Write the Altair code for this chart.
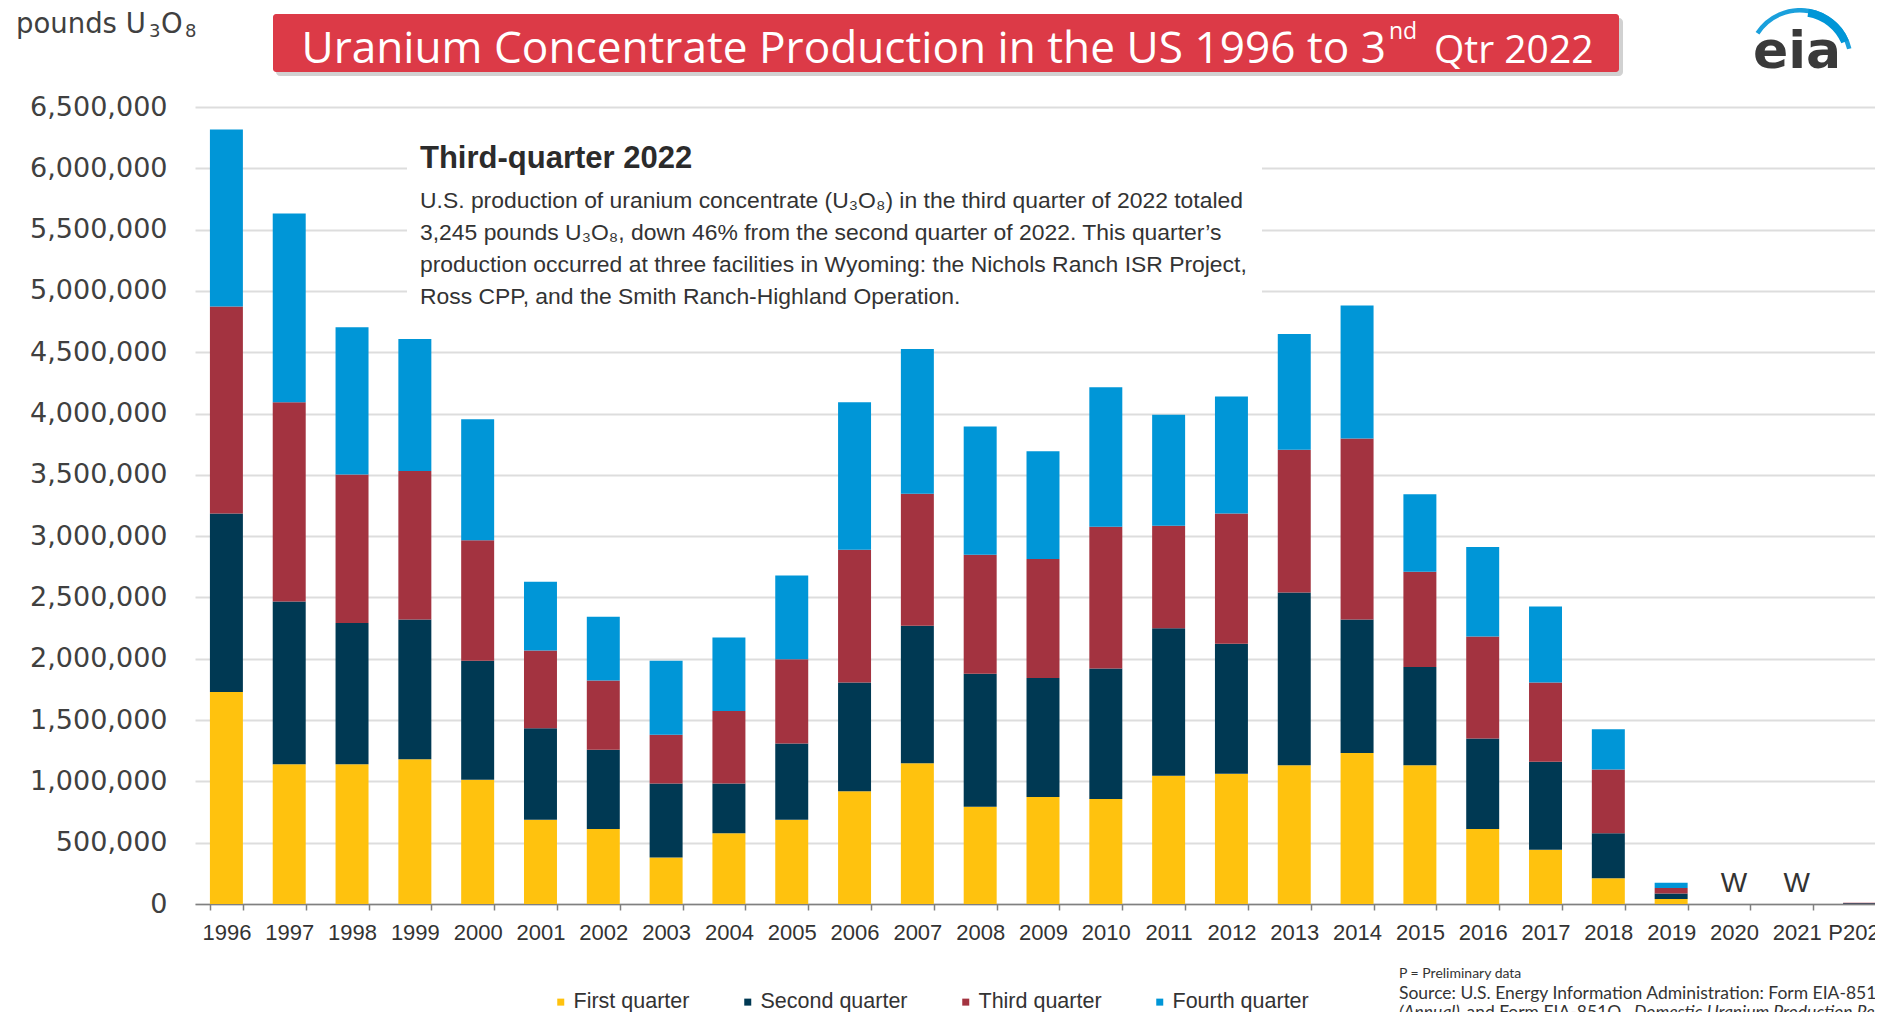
import altair as alt
import pandas as pd

# ---------------- data ----------------
years = ["1996", "1997", "1998", "1999", "2000", "2001", "2002", "2003", "2004",
         "2005", "2006", "2007", "2008", "2009", "2010", "2011", "2012", "2013",
         "2014", "2015", "2016", "2017", "2018", "2019", "2020", "2021", "P2022"]
quarters = ["First quarter", "Second quarter", "Third quarter", "Fourth quarter"]

q1 = [1730000, 1139000, 1139000, 1181000, 1013000, 688000, 612000, 380000, 578000,
      688000, 920000, 1148000, 793000, 873000, 856000, 1046000, 1063000, 1131000,
      1232000, 1131000, 612000, 443000, 211000, 40000, 0, 0, 0]
q2 = [1455000, 1329000, 1152000, 1139000, 970000, 746000, 645000, 603000, 405000,
      620000, 886000, 1122000, 1084000, 971000, 1064000, 1203000, 1059000, 1409000,
      1088000, 801000, 738000, 717000, 367000, 45000, 0, 0, 6009]
q3 = [1688000, 1624000, 1211000, 1211000, 983000, 633000, 566000, 397000, 591000,
      688000, 1084000, 1076000, 971000, 970000, 1156000, 835000, 1063000, 1164000,
      1477000, 777000, 831000, 646000, 519000, 45000, 0, 0, 3245]
q4 = [1443000, 1540000, 1202000, 1076000, 987000, 561000, 519000, 603000, 599000,
      683000, 1202000, 1181000, 1046000, 878000, 1139000, 907000, 954000, 945000,
      1084000, 632000, 730000, 620000, 329000, 44000, 0, 0, 0]

colors = ["#FFC20E", "#003953", "#A33340", "#0096D7"]
y_ticks = [0, 500000, 1000000, 1500000, 2000000, 2500000, 3000000, 3500000,
           4000000, 4500000, 5000000, 5500000, 6000000, 6500000]

withheld_years = ["2020", "2021"]
withheld_labels = ["W", "W"]

title_main = "Uranium Concentrate Production in the US 1996 to 3"
title_sup = "nd"
title_tail = "Qtr 2022"
unit_parts = ["pounds U", "3", "O", "8"]
note_heading = "Third-quarter 2022"
note_lines = [
    "U.S. production of uranium concentrate (U\u2083O\u2088) in the third quarter of 2022 totaled",
    "3,245 pounds U\u2083O\u2088, down 46% from the second quarter of 2022. This quarter\u2019s",
    "production occurred at three facilities in Wyoming: the Nichols Ranch ISR Project,",
    "Ross CPP, and the Smith Ranch-Highland Operation.",
]
logo_text = "eia"
prelim_note = "P = Preliminary data"
source_line = "Source: U.S. Energy Information Administration: Form EIA-851A"
source_parts = ["(Annual)", ", and Form EIA-851Q, ", "Domestic Uranium Production Report"]

# ---------------- tables ----------------
rows = []
for i, yr in enumerate(years):
    for k, vals in enumerate([q1, q2, q3, q4]):
        rows.append({"year": yr, "quarter": quarters[k], "qi": k, "value": vals[i]})
df = pd.DataFrame(rows)
wdf = pd.DataFrame({"year": withheld_years, "label": withheld_labels,
                    "value": [0] * len(withheld_years)})

# page -> plot coordinates
X0, Y0 = 195, 107


def px(x):
    return x - X0


def py(y):
    return y - Y0


FONT = "Liberation Sans"
WIDE = "DejaVu Sans"

xscale = alt.Scale(domain=years, paddingInner=0.475, paddingOuter=0.2375)
yscale = alt.Scale(domain=[0, 6500000], nice=False, zero=True)

x_axis = alt.Axis(title=None, labelAngle=0, labelFont=FONT, labelFontSize=22,
                  labelColor="#333333", tickBand="extent", tickSize=6,
                  tickColor="#808080", tickWidth=1.5, domainColor="#808080",
                  domainWidth=1.5, labelPadding=12, grid=False)
y_axis = alt.Axis(title=None, values=y_ticks, labelExpr="format(datum.value, ',')",
                  labelFont=WIDE, labelFontSize=27, labelColor="#404040",
                  ticks=False, tickSize=0, domain=False, labelPadding=28,
                  grid=True, gridColor="#dddddd", gridWidth=2)

x_enc = alt.X("year:N", scale=xscale, axis=x_axis)
y_enc = alt.Y("value:Q", scale=yscale, axis=y_axis)


def text_layer(s, x, y, **kw):
    return alt.Chart(pd.DataFrame({"t": [s]})).mark_text(**kw).encode(
        text="t:N", x=alt.value(px(x)), y=alt.value(py(y)))


def rect_layer(x1, x2, y1, y2, **kw):
    return alt.Chart(pd.DataFrame({"t": [0]})).mark_rect(**kw).encode(
        x=alt.value(px(x1)), x2=alt.value(px(x2)),
        y=alt.value(py(y1)), y2=alt.value(py(y2)))


def arc_layer(cx, cy, r0, r1, t0, t1, **kw):
    return alt.Chart(pd.DataFrame({"t": [0]})).mark_arc(
        innerRadius=r0, outerRadius=r1, theta=t0, theta2=t1, **kw
    ).encode(x=alt.value(px(cx)), y=alt.value(py(cy)))


# info box (white, covers gridlines)
box = rect_layer(407, 1262, 128, 320, color="white")

bars = alt.Chart(df).mark_bar().encode(
    x=x_enc,
    y=alt.Y("value:Q", scale=yscale, axis=y_axis, stack="zero"),
    color=alt.Color("quarter:N", scale=alt.Scale(domain=quarters, range=colors),
                    legend=alt.Legend(title=None, orient="none", direction="horizontal",
                                      legendX=px(550), legendY=py(991),
                                      symbolType="square", symbolSize=49,
                                      symbolStrokeWidth=0, symbolOpacity=1,
                                      labelFont=FONT, labelFontSize=21.5,
                                      labelColor="#333333", labelOffset=2,
                                      columnPadding=47, padding=0)),
    order=alt.Order("qi:Q", sort="ascending"),
)

wlabels = alt.Chart(wdf).mark_text(font=FONT, fontSize=28, color="#333333",
                                   baseline="alphabetic", dy=-12).encode(
    x=x_enc, y=y_enc, text="label:N")

# title banner
shadow = rect_layer(276, 1623, 18, 76, color="#000000", opacity=0.18, cornerRadius=4)
banner = rect_layer(273, 1619, 14, 72, color="#DC3A47", cornerRadius=3)
t_main = text_layer(title_main, 1386, 63, font="Open Sans", fontSize=44.2,
                    color="white", align="right", baseline="alphabetic")
t_sup = text_layer(title_sup, 1389, 39, font="Open Sans", fontSize=23,
                   color="white", align="left", baseline="alphabetic")
t_tail = text_layer(title_tail, 1434, 63, font="Open Sans", fontSize=39,
                    color="white", align="left", baseline="alphabetic")

# unit label with subscripts
u_kw = dict(font=WIDE, color="#404040", align="left", baseline="alphabetic")
unit_a = text_layer(unit_parts[0], 16, 33, fontSize=27.5, **u_kw)
unit_b = text_layer(unit_parts[1], 149, 37, fontSize=18, **u_kw)
unit_c = text_layer(unit_parts[2], 161, 33, fontSize=27.5, **u_kw)
unit_d = text_layer(unit_parts[3], 185, 37, fontSize=18, **u_kw)

# eia logo
swoosh_thin = arc_layer(1800, 61, 48.5, 53, 5.29, 7.61, color="#1AA0DC")
swoosh_thick = arc_layer(1800, 61, 45, 53, 6.45, 7.45, color="#0096D7")
logo = text_layer(logo_text, 1753, 68, font=WIDE, fontSize=52, fontWeight="bold",
                  color="#3a3a3a", align="left", baseline="alphabetic")

# note text
heading = text_layer(note_heading, 420, 168, font=FONT, fontSize=31,
                     fontWeight="bold", color="#2b2b2b", align="left",
                     baseline="alphabetic")
body = [text_layer(s, 420, 208 + 32 * i, font=FONT, fontSize=22.9, color="#333333",
                   align="left", baseline="alphabetic")
        for i, s in enumerate(note_lines)]

# source notes
s_kw = dict(font="Lato", color="#333333", align="left", baseline="alphabetic")
prelim = text_layer(prelim_note, 1399, 978, fontSize=14, **s_kw)
source = text_layer(source_line, 1399, 999, fontSize=17.5, **s_kw)
src2a = text_layer(source_parts[0], 1399, 1018, fontSize=17.5, fontStyle="italic", **s_kw)
src2b = text_layer(source_parts[1], 1458, 1018, fontSize=17.5, **s_kw)
src2c = text_layer(source_parts[2], 1634, 1018, fontSize=17.5, fontStyle="italic", **s_kw)

chart = alt.layer(
    box, bars, wlabels, shadow, banner, t_main, t_sup, t_tail,
    unit_a, unit_b, unit_c, unit_d,
    swoosh_thin, swoosh_thick, logo, heading, *body, prelim, source,
    src2a, src2b, src2c,
).properties(
    width=1696, height=797,
    autosize=alt.AutoSizeParams(type="none"),
    padding={"left": 187, "top": 99, "right": -16, "bottom": 108},
    background="white",
).configure_view(stroke=None)

chart.save("out.html", embed_options={"renderer": "svg", "actions": False})
